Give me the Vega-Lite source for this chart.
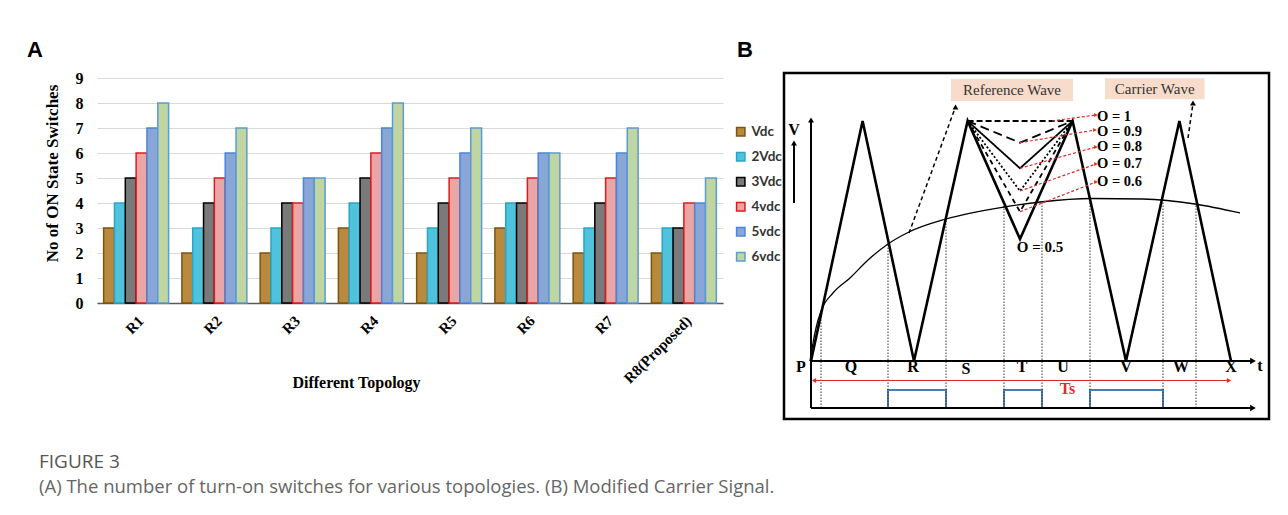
{
"$schema":"https://vega.github.io/schema/vega-lite/v6.json",
"background":"white",
"padding":{"left":27,"top":37,"right":5,"bottom":5},
"bounds":"flush",
"spacing":61,
"config":{"view":{"stroke":null}},
"title":{"text":"FIGURE 3","subtitle":"(A) The number of turn-on switches for various topologies. (B) Modified Carrier Signal.","orient":"bottom","anchor":"start","frame":"bounds","font":"Open Sans","fontSize":19,"fontWeight":"normal","color":"#555555","subtitleFont":"Open Sans","subtitleFontSize":18.5,"subtitleColor":"#666666","offset":33,"dx":12,"subtitlePadding":6},
"datasets":{
"bars":[
{"topology":"R1","series":"Vdc","value":3},{"topology":"R1","series":"2Vdc","value":4},{"topology":"R1","series":"3Vdc","value":5},{"topology":"R1","series":"4vdc","value":6},{"topology":"R1","series":"5vdc","value":7},{"topology":"R1","series":"6vdc","value":8},
{"topology":"R2","series":"Vdc","value":2},{"topology":"R2","series":"2Vdc","value":3},{"topology":"R2","series":"3Vdc","value":4},{"topology":"R2","series":"4vdc","value":5},{"topology":"R2","series":"5vdc","value":6},{"topology":"R2","series":"6vdc","value":7},
{"topology":"R3","series":"Vdc","value":2},{"topology":"R3","series":"2Vdc","value":3},{"topology":"R3","series":"3Vdc","value":4},{"topology":"R3","series":"4vdc","value":4},{"topology":"R3","series":"5vdc","value":5},{"topology":"R3","series":"6vdc","value":5},
{"topology":"R4","series":"Vdc","value":3},{"topology":"R4","series":"2Vdc","value":4},{"topology":"R4","series":"3Vdc","value":5},{"topology":"R4","series":"4vdc","value":6},{"topology":"R4","series":"5vdc","value":7},{"topology":"R4","series":"6vdc","value":8},
{"topology":"R5","series":"Vdc","value":2},{"topology":"R5","series":"2Vdc","value":3},{"topology":"R5","series":"3Vdc","value":4},{"topology":"R5","series":"4vdc","value":5},{"topology":"R5","series":"5vdc","value":6},{"topology":"R5","series":"6vdc","value":7},
{"topology":"R6","series":"Vdc","value":3},{"topology":"R6","series":"2Vdc","value":4},{"topology":"R6","series":"3Vdc","value":4},{"topology":"R6","series":"4vdc","value":5},{"topology":"R6","series":"5vdc","value":6},{"topology":"R6","series":"6vdc","value":6},
{"topology":"R7","series":"Vdc","value":2},{"topology":"R7","series":"2Vdc","value":3},{"topology":"R7","series":"3Vdc","value":4},{"topology":"R7","series":"4vdc","value":5},{"topology":"R7","series":"5vdc","value":6},{"topology":"R7","series":"6vdc","value":7},
{"topology":"R8(Proposed)","series":"Vdc","value":2},{"topology":"R8(Proposed)","series":"2Vdc","value":3},{"topology":"R8(Proposed)","series":"3Vdc","value":3},{"topology":"R8(Proposed)","series":"4vdc","value":4},{"topology":"R8(Proposed)","series":"5vdc","value":4},{"topology":"R8(Proposed)","series":"6vdc","value":5}
],
"labelbg":[{"x":167,"x2":289,"y":318,"y2":340},{"x":321,"x2":420.5,"y":319.7,"y2":340.7}],
"bluerects":[{"x":104,"x2":162,"y":11,"y2":29},{"x":220,"x2":258,"y":11,"y2":29},{"x":306,"x2":379,"y":11,"y2":29}],
"dotted":[{"x":37,"y":11,"y2":108},{"x":104,"y":11,"y2":175},{"x":162,"y":11,"y2":200},{"x":220,"y":11,"y2":213},{"x":258,"y":11,"y2":217},{"x":306,"y":11,"y2":220},{"x":379,"y":11,"y2":220},{"x":412,"y":11,"y2":215}],
"curve":[{"i":1,"x":26,"y":58},{"i":2,"x":29,"y":76},{"i":3,"x":32,"y":91},{"i":4,"x":37,"y":108},{"i":5,"x":49,"y":126},{"i":6,"x":66,"y":141},{"i":7,"x":84,"y":159},{"i":8,"x":104,"y":175},{"i":9,"x":125,"y":187},{"i":10,"x":162,"y":200},{"i":11,"x":220,"y":212},{"i":12,"x":256,"y":217},{"i":13,"x":308,"y":220.5},{"i":14,"x":359,"y":220},{"i":15,"x":411,"y":215},{"i":16,"x":456,"y":206}],
"carrier":[{"i":1,"x":27,"y":58},{"i":2,"x":78.6,"y":298},{"i":3,"x":130,"y":58},{"i":4,"x":183.6,"y":298},{"i":5,"x":236,"y":180},{"i":6,"x":288.6,"y":298},{"i":7,"x":342,"y":58},{"i":8,"x":395.4,"y":298},{"i":9,"x":447,"y":58}],
"olevels":[
{"level":"O1","i":1,"x":183.6,"y":298},{"level":"O1","i":2,"x":288.6,"y":298},
{"level":"O0.9","i":1,"x":183.6,"y":298},{"level":"O0.9","i":2,"x":236,"y":276.3},{"level":"O0.9","i":3,"x":288.6,"y":298},
{"level":"O0.8","i":1,"x":183.6,"y":298},{"level":"O0.8","i":2,"x":236,"y":250.7},{"level":"O0.8","i":3,"x":288.6,"y":298},
{"level":"O0.7","i":1,"x":183.6,"y":298},{"level":"O0.7","i":2,"x":236,"y":228},{"level":"O0.7","i":3,"x":288.6,"y":298},
{"level":"O0.6","i":1,"x":183.6,"y":298},{"level":"O0.6","i":2,"x":236,"y":207.3},{"level":"O0.6","i":3,"x":288.6,"y":298}
],
"redarrows":[{"x":268,"y":298,"x2":312,"y2":304},{"x":236,"y":276.3,"x2":311,"y2":289},{"x":236,"y":250.7,"x2":312,"y2":272},{"x":236,"y":228,"x2":312,"y2":255},{"x":236,"y":207.3,"x2":312,"y2":237}],
"axeslines":[{"x":27,"y":58,"x2":469,"y2":58},{"x":27,"y":11,"x2":469,"y2":11},{"x":27,"y":11,"x2":27,"y2":299},{"x":10,"y":216,"x2":10,"y2":276}],
"headsright":[{"x":469,"y":58},{"x":469,"y":11}],
"headsup":[{"x":27,"y":299},{"x":10,"y":276},{"x":171.5,"y":312},{"x":409,"y":316}],
"tsline":[{"x":29,"y":38.5,"x2":446,"y2":38.5}],
"tsleft":[{"x":30,"y":38.5}],
"tsright":[{"x":445,"y":38.5}],
"blackdashed":[{"x":125,"y":186,"x2":171.5,"y2":312},{"x":404,"y":281,"x2":409,"y2":316}],
"letters":[{"label":"P","x":17,"y":52},{"label":"Q","x":67,"y":52},{"label":"R","x":129,"y":52},{"label":"S","x":182,"y":50},{"label":"T","x":238,"y":52},{"label":"U","x":279,"y":52},{"label":"V","x":342,"y":52},{"label":"W","x":397,"y":52},{"label":"X","x":447,"y":52},{"label":"t","x":476,"y":53},{"label":"V","x":10,"y":289}],
"olabels":[{"label":"O = 1","x":313,"y":302.5},{"label":"O = 0.9","x":313,"y":287.5},{"label":"O = 0.8","x":313,"y":271.7},{"label":"O = 0.7","x":313,"y":255},{"label":"O = 0.6","x":313,"y":236.7}],
"o05":[{"label":"O = 0.5","x":256,"y":172}],
"ts":[{"label":"Ts","x":283.5,"y":30}],
"wavelabels":[{"label":"Reference Wave","x":228,"y":329},{"label":"Carrier Wave","x":370.7,"y":330}]
},
"hconcat":[
{
"width":626,"height":230,
"title":{"text":"A","anchor":"start","frame":"group","dx":-70,"offset":8,"font":"Liberation Sans","fontSize":22,"fontWeight":"bold","color":"#000000"},
"data":{"name":"bars"},
"mark":{"type":"bar","strokeWidth":1.5},
"encoding":{
"x":{"field":"topology","type":"nominal","sort":["R1","R2","R3","R4","R5","R6","R7","R8(Proposed)"],"scale":{"paddingInner":0.17,"paddingOuter":0.085},
"axis":{"title":"Different Topology","labelAngle":-45,"labelFont":"Liberation Serif","labelFontWeight":"bold","labelFontSize":15,"labelColor":"#000000","labelPadding":10,"ticks":false,"domainColor":"#595959","domainWidth":1.5,"grid":false,"titleFont":"Liberation Serif","titleFontWeight":"bold","titleFontSize":16,"titleColor":"#000000","titleX":259,"titleY":79,"titleAlign":"center","titleBaseline":"middle"}},
"xOffset":{"field":"series","type":"nominal","sort":["Vdc","2Vdc","3Vdc","4vdc","5vdc","6vdc"]},
"y":{"field":"value","type":"quantitative","scale":{"domain":[0,9.2],"nice":false},
"axis":{"values":[0,1,2,3,4,5,6,7,8,9],"title":"No of ON State Switches","grid":true,"gridColor":"#d9d9d9","domain":false,"ticks":false,"labelFont":"Liberation Serif","labelFontWeight":"bold","labelFontSize":16,"labelColor":"#000000","labelPadding":14,"titleFont":"Liberation Serif","titleFontWeight":"bold","titleFontSize":17,"titleColor":"#000000","titleX":-45,"titleY":100,"titleAlign":"center","titleBaseline":"middle","titleAngle":-90}},
"fill":{"field":"series","type":"nominal","scale":{"domain":["Vdc","2Vdc","3Vdc","4vdc","5vdc","6vdc"],"range":["#b98a3e","#4fc3dc","#7a7a7a","#eaa6a6","#8aa6d6","#bfd6a3"]},
"legend":{"title":null,"orient":"none","legendX":637,"legendY":52,"symbolType":"square","symbolSize":70,"symbolStrokeWidth":1.5,"labelFont":"Lato","labelFontSize":13.5,"labelFontWeight":"bold","labelColor":"#333333","rowPadding":10}},
"stroke":{"field":"series","type":"nominal","scale":{"domain":["Vdc","2Vdc","3Vdc","4vdc","5vdc","6vdc"],"range":["#7b5410","#2aa5c5","#000000","#e01b1b","#4a86d8","#5b9bd5"]},
"legend":{"title":null,"orient":"none","legendX":637,"legendY":52,"symbolType":"square","symbolSize":70,"symbolStrokeWidth":1.5,"labelFont":"Lato","labelFontSize":13.5,"labelFontWeight":"bold","labelColor":"#333333","rowPadding":10}}
}
},
{
"width":485,"height":346,
"view":{"stroke":"#000000","strokeWidth":2.5},
"title":{"text":"B","anchor":"start","frame":"group","dx":-47,"offset":11,"font":"Liberation Sans","fontSize":22,"fontWeight":"bold","color":"#000000"},
"layer":[
{"data":{"name":"labelbg"},"mark":{"type":"rect","fill":"#f8dccb"},"encoding":{"x":{"field":"x","type":"quantitative","scale":{"domain":[0,485],"nice":false,"zero":false},"axis":null},"x2":{"field":"x2"},"y":{"field":"y","type":"quantitative","scale":{"domain":[0,346],"nice":false,"zero":false},"axis":null},"y2":{"field":"y2"}}},
{"data":{"name":"bluerects"},"mark":{"type":"rect","fillOpacity":0,"stroke":"#4a7cb5","strokeWidth":2},"encoding":{"x":{"field":"x","type":"quantitative"},"x2":{"field":"x2"},"y":{"field":"y","type":"quantitative"},"y2":{"field":"y2"}}},
{"data":{"name":"dotted"},"mark":{"type":"rule","color":"#333333","strokeWidth":1,"strokeDash":[1.5,1.5]},"encoding":{"x":{"field":"x","type":"quantitative"},"y":{"field":"y","type":"quantitative"},"y2":{"field":"y2"}}},
{"data":{"name":"curve"},"mark":{"type":"line","color":"#000000","strokeWidth":1.3,"interpolate":"monotone"},"encoding":{"x":{"field":"x","type":"quantitative"},"y":{"field":"y","type":"quantitative"},"order":{"field":"i"}}},
{"data":{"name":"carrier"},"mark":{"type":"line","color":"#000000","strokeWidth":2.6},"encoding":{"x":{"field":"x","type":"quantitative"},"y":{"field":"y","type":"quantitative"},"order":{"field":"i"}}},
{"data":{"name":"olevels"},"mark":{"type":"line","color":"#000000","strokeWidth":1.8},"encoding":{"x":{"field":"x","type":"quantitative"},"y":{"field":"y","type":"quantitative"},"order":{"field":"i"},"detail":{"field":"level"},"strokeDash":{"field":"level","type":"nominal","scale":{"domain":["O1","O0.9","O0.8","O0.7","O0.6"],"range":[[6,3],[9,5],[1,0],[2,2],[5,4]]},"legend":null}}},
{"data":{"name":"redarrows"},"mark":{"type":"rule","color":"#e02b2b","strokeWidth":1.2,"strokeDash":[3,2]},"encoding":{"x":{"field":"x","type":"quantitative"},"y":{"field":"y","type":"quantitative"},"x2":{"field":"x2"},"y2":{"field":"y2"}}},
{"data":{"name":"redarrows"},"mark":{"type":"point","shape":"triangle-right","filled":true,"color":"#e02b2b","size":18,"opacity":1},"encoding":{"x":{"field":"x2","type":"quantitative"},"y":{"field":"y2","type":"quantitative"}}},
{"data":{"name":"axeslines"},"mark":{"type":"rule","color":"#000000","strokeWidth":2},"encoding":{"x":{"field":"x","type":"quantitative"},"y":{"field":"y","type":"quantitative"},"x2":{"field":"x2"},"y2":{"field":"y2"}}},
{"data":{"name":"headsright"},"mark":{"type":"point","shape":"triangle-right","filled":true,"color":"#000000","size":45,"opacity":1},"encoding":{"x":{"field":"x","type":"quantitative"},"y":{"field":"y","type":"quantitative"}}},
{"data":{"name":"headsup"},"mark":{"type":"point","shape":"triangle-up","filled":true,"color":"#000000","size":35,"opacity":1},"encoding":{"x":{"field":"x","type":"quantitative"},"y":{"field":"y","type":"quantitative"}}},
{"data":{"name":"tsline"},"mark":{"type":"rule","color":"#e02b2b","strokeWidth":1},"encoding":{"x":{"field":"x","type":"quantitative"},"y":{"field":"y","type":"quantitative"},"x2":{"field":"x2"},"y2":{"field":"y2"}}},
{"data":{"name":"tsleft"},"mark":{"type":"point","shape":"triangle-left","filled":true,"color":"#e02b2b","size":25,"opacity":1},"encoding":{"x":{"field":"x","type":"quantitative"},"y":{"field":"y","type":"quantitative"}}},
{"data":{"name":"tsright"},"mark":{"type":"point","shape":"triangle-right","filled":true,"color":"#e02b2b","size":25,"opacity":1},"encoding":{"x":{"field":"x","type":"quantitative"},"y":{"field":"y","type":"quantitative"}}},
{"data":{"name":"blackdashed"},"mark":{"type":"rule","color":"#000000","strokeWidth":1.5,"strokeDash":[4,3]},"encoding":{"x":{"field":"x","type":"quantitative"},"y":{"field":"y","type":"quantitative"},"x2":{"field":"x2"},"y2":{"field":"y2"}}},
{"data":{"name":"letters"},"mark":{"type":"text","font":"Liberation Serif","fontWeight":"bold","fontSize":16,"color":"#000000","align":"center","baseline":"middle"},"encoding":{"x":{"field":"x","type":"quantitative"},"y":{"field":"y","type":"quantitative"},"text":{"field":"label"}}},
{"data":{"name":"olabels"},"mark":{"type":"text","font":"Liberation Serif","fontWeight":"bold","fontSize":14.5,"color":"#000000","align":"left","baseline":"middle"},"encoding":{"x":{"field":"x","type":"quantitative"},"y":{"field":"y","type":"quantitative"},"text":{"field":"label"}}},
{"data":{"name":"o05"},"mark":{"type":"text","font":"Liberation Serif","fontWeight":"bold","fontSize":15,"color":"#000000","align":"center","baseline":"middle"},"encoding":{"x":{"field":"x","type":"quantitative"},"y":{"field":"y","type":"quantitative"},"text":{"field":"label"}}},
{"data":{"name":"ts"},"mark":{"type":"text","font":"Liberation Serif","fontWeight":"bold","fontSize":16,"color":"#e02b2b","align":"center","baseline":"middle"},"encoding":{"x":{"field":"x","type":"quantitative"},"y":{"field":"y","type":"quantitative"},"text":{"field":"label"}}},
{"data":{"name":"wavelabels"},"mark":{"type":"text","font":"Liberation Serif","fontSize":15,"color":"#333333","align":"center","baseline":"middle"},"encoding":{"x":{"field":"x","type":"quantitative"},"y":{"field":"y","type":"quantitative"},"text":{"field":"label"}}}
]
}
]
}
